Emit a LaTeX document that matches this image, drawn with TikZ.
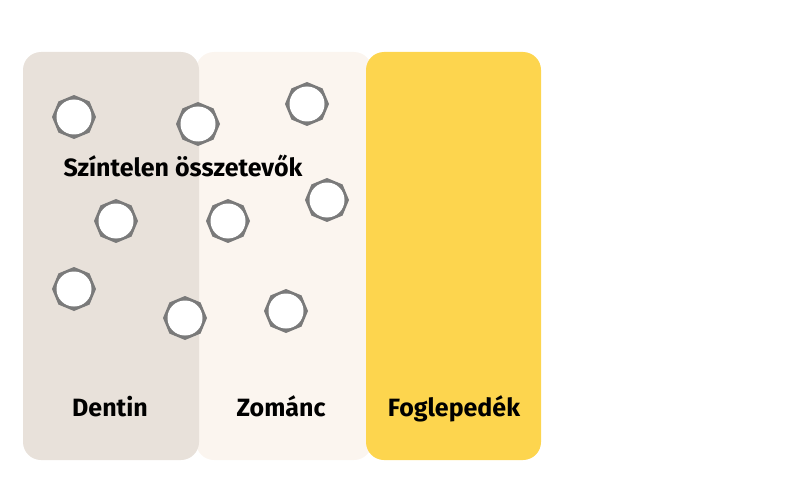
\documentclass[tikz,border=0pt]{standalone}
\usepackage{fontspec}
\setmainfont{Fira Sans}
\usetikzlibrary{shapes.geometric}
\definecolor{dentinc}{HTML}{E8E1DA}
\definecolor{zomancc}{HTML}{FBF5EF}
\definecolor{foglc}{HTML}{FDD54E}
\definecolor{molg}{HTML}{7A7A7A}
\tikzset{
  panel/.style={rounded corners=18pt},
  lbl/.style={font=\bfseries\fontsize{25}{29}\selectfont, text=black, inner sep=0pt, anchor=base},
  molo/.style={regular polygon, regular polygon sides=8, fill=molg, minimum size=44pt, inner sep=0pt, rotate=22.5},
  moli/.style={circle, fill=white, minimum size=35pt, inner sep=0pt}
}
\newcommand{\mol}[2]{\node[molo] at (#1) {}; \node[moli] (#2) at (#1) {};}
\begin{document}
\begin{tikzpicture}[x=1pt,y=-1pt]
\useasboundingbox (0,0) rectangle (800,500);
\fill[zomancc, panel] (196,52) rectangle (372,460);
\fill[dentinc, panel] (23,52) rectangle (199,460);
\fill[foglc, panel] (366,52) rectangle (541,460);
\mol{74,117}{m1}
\mol{198,124}{m2}
\mol{307,104}{m3}
\mol{116,221}{m4}
\mol{228,221}{m5}
\mol{327,200}{m6}
\mol{74,289}{m7}
\mol{185,318}{m8}
\mol{286,311}{m9}
\node[lbl] (title) at (183,176) {Színtelen összetevők};
\node[lbl] (dentin) at (110,416) {Dentin};
\node[lbl] (zomanc) at (281,416) {Zománc};
\node[lbl] (fogl) at (454,416) {Foglepedék};
\end{tikzpicture}
\end{document}
